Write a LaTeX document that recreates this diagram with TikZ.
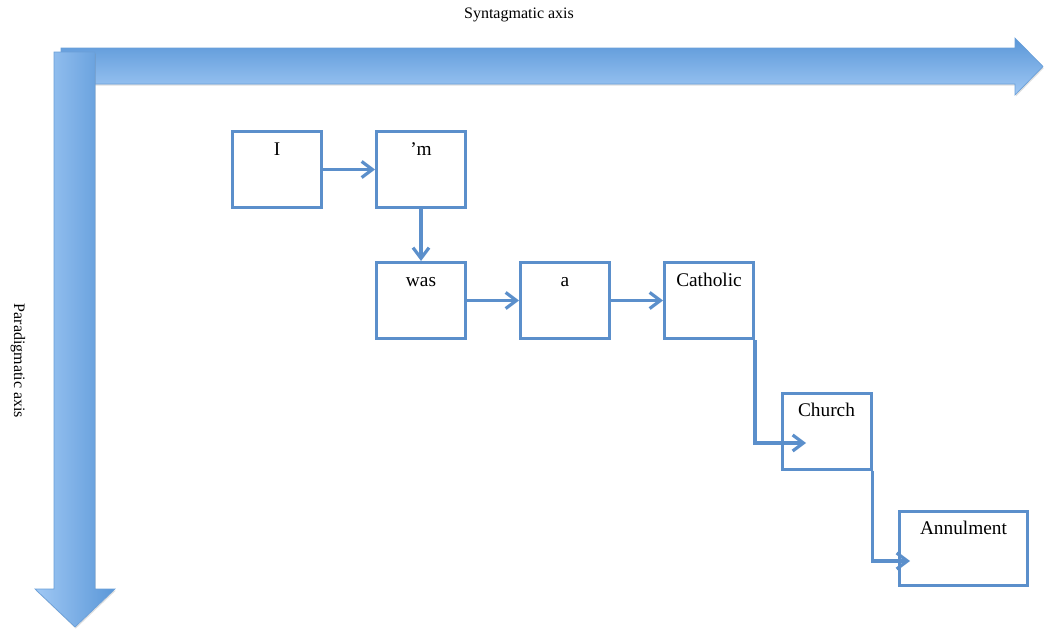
\documentclass[tikz,border=0pt]{standalone}
\usepackage{fontspec}
\setmainfont{Liberation Serif}
\usetikzlibrary{arrows.meta,shadows}

\definecolor{boxblue}{HTML}{5B8FCB}
\definecolor{axisdark}{HTML}{5A97D8}
\definecolor{axislight}{HTML}{A0C8F4}
\definecolor{axisedge}{HTML}{6A9FD8}

\tikzset{
  wordbox/.style={draw=boxblue, line width=2.25pt, minimum width=66.75pt,
    minimum height=57pt, inner sep=0pt, font=\fontsize{14.5}{16}\selectfont,
    text height=12pt, text depth=33.75pt},
  link/.style={draw=boxblue, line width=2.4pt,
    -{Straight Barb[length=8pt,width=12pt]}},
  axislabel/.style={font=\fontsize{12}{14}\selectfont},
  axisarrow/.style={draw=axisedge, line width=0.5pt,
    drop shadow={opacity=0.25, shadow xshift=0.6pt, shadow yshift=-1.2pt}}
}

\begin{document}
\begin{tikzpicture}[x=0.75pt, y=-0.75pt]
  \useasboundingbox (0,0) rectangle (1052,628);

  % Axes
  \path[axisarrow, top color=axisdark, bottom color=axislight]
    (61,48) -- (1015,48) -- (1015,38) -- (1043,66.5) -- (1015,95)
    -- (1015,84) -- (61,84) -- cycle;
  \path[axisarrow, left color=axislight, right color=axisdark]
    (54,52) -- (95,52) -- (95,589) -- (115,589) -- (75,627)
    -- (35,589) -- (54,589) -- cycle;
  \node[axislabel] (syn) at (519,15) {Syntagmatic axis};
  \node[axislabel, rotate=-90] (para) at (18,361) {Paradigmatic axis};

  % Words
  \node[wordbox] (I) at (277,169.5) {I};
  \node[wordbox] (m) at (421,169.5) {’m};
  \node[wordbox] (was) at (421,300.5) {was};
  \node[wordbox] (a) at (565,300.5) {a};
  \node[wordbox] (Catholic) at (709,300.5) {Catholic};
  \node[wordbox] (Church) at (826.5,431) {Church};
  \node[wordbox, minimum width=96pt, minimum height=55.5pt]
    (Annulment) at (963.5,548.5) {Annulment};

  % Arrow ends inside the boxes
  \coordinate (churchIn) at (806,443);
  \coordinate (annulIn) at (910,561);

  % Links
  \draw[link] (I) -- (m);
  \draw[link] (m) -- (was);
  \draw[link] (was) -- (a);
  \draw[link] (a) -- (Catholic);
  \draw[link] (Catholic.south east) |- (churchIn);
  \draw[link] (Church.south east) |- (annulIn);

\end{tikzpicture}
\end{document}
